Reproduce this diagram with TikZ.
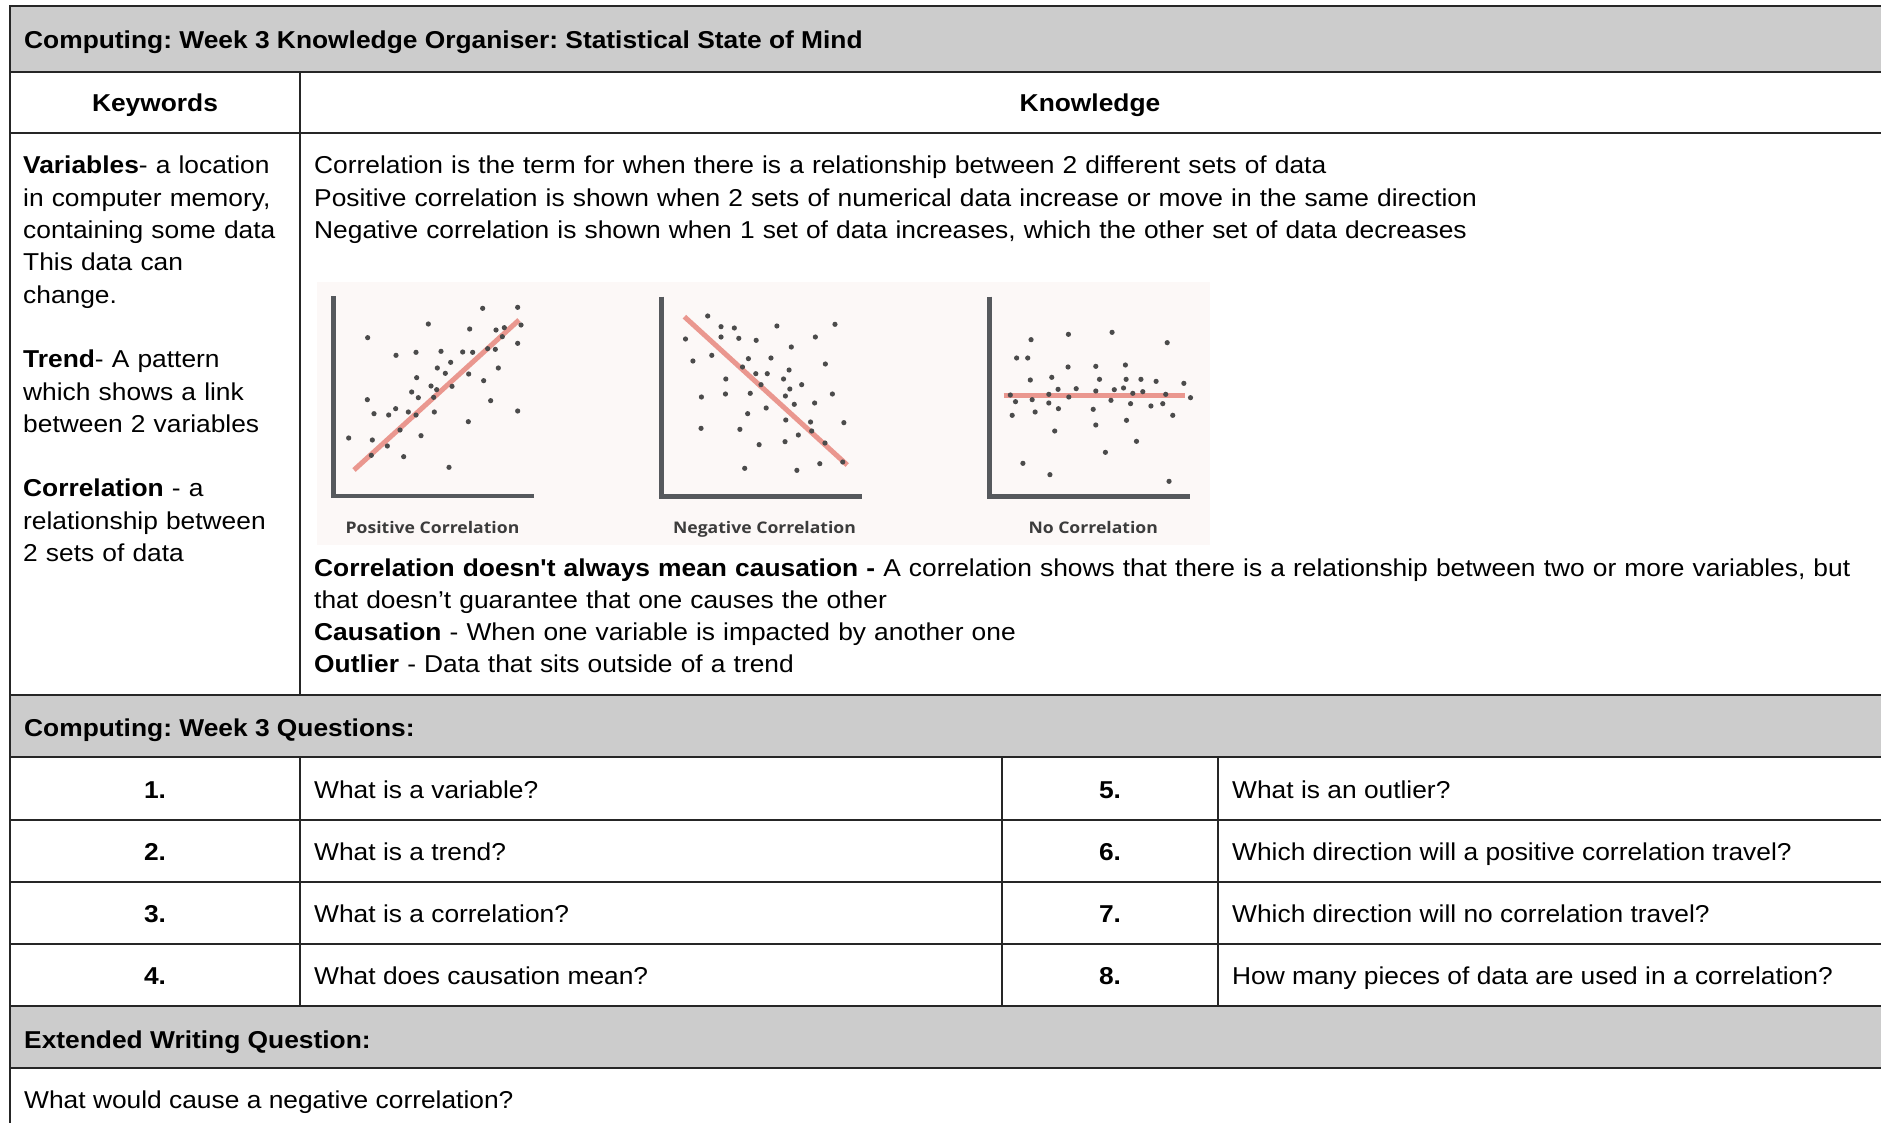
\documentclass[tikz,border=0pt]{standalone}
\usepackage{fontspec}
\setmainfont[FakeStretch=1.08,Ligatures=TeXOff]{Liberation Sans}
\newfontfamily\plotfont[FakeStretch=1.1]{Open Sans}
\usetikzlibrary{positioning}
\frenchspacing

\definecolor{hdrgray}{HTML}{CCCCCC}
\definecolor{plotbg}{HTML}{FCF8F7}
\definecolor{axisgray}{HTML}{56595D}
\definecolor{dotgray}{HTML}{4B4B4B}
\definecolor{trendred}{HTML}{EA978F}
\definecolor{labelgray}{HTML}{3C3C3C}

\begin{document}
\begin{tikzpicture}[x=1pt, y=-1pt,
  txt/.style={anchor=base west, inner sep=0pt, font=\fontsize{24.4}{32.3}\selectfont},
  block/.style={txt, text width=1700pt, align=left},
  hdr/.style={anchor=base, inner sep=0pt, font=\fontsize{24.4}{32.3}\selectfont\bfseries},
  grid/.style={draw=black!85, line width=2pt},
  axis/.style={draw=axisgray, line width=4.5pt},
  trend/.style={draw=trendred, line width=5pt},
  dot/.style={fill=dotgray},
  plotlabel/.style={anchor=base, inner sep=0pt, text=labelgray, font=\plotfont\bfseries\fontsize{16}{18}\selectfont}
]
\useasboundingbox (0,0) rectangle (1881,1123);
\clip (0,0) rectangle (1881,1123);

\fill[hdrgray] (10,6) rectangle (1890,72);
\fill[hdrgray] (10,695) rectangle (1890,757);
\fill[hdrgray] (10,1006) rectangle (1890,1068);
\fill[plotbg] (317,282) rectangle (1210,545);

\draw[grid] (10,1130) -- (10,6) -- (1890,6);
\foreach \yy in {72,133,695,757,820,882,944,1006,1068}
  \draw[grid] (10,\yy) -- (1890,\yy);
\draw[grid] (300,72) -- (300,695);
\foreach \xx in {300,1002,1218}
  \draw[grid] (\xx,757) -- (\xx,1006);

\node[txt] (title) at (24,48.3) {\bfseries Computing: Week 3 Knowledge Organiser: Statistical State of Mind};
\node[hdr] (kwhead) at (155,111.7) {Keywords};
\node[hdr] (knhead) at (1090,111.7) {Knowledge};

\node[block] (kwvar) at (23,174) {\textbf{Variables}- a location\\in computer memory,\\containing some data\\This data can\\change.};
\node[block] (kwtrend) at (23,367.7) {\textbf{Trend}- A pattern\\which shows a link\\between 2 variables};
\node[block] (kwcorr) at (23,496.7) {\textbf{Correlation} - a\\relationship between\\2 sets of data};

\node[block] (kntext) at (314,174) {Correlation is the term for when there is a relationship between 2 different sets of data\\Positive correlation is shown when 2 sets of numerical data increase or move in the same direction\\Negative correlation is shown when 1 set of data increases, which the other set of data decreases};
\node[block] (knmore) at (314,576) {\textbf{Correlation doesn't always mean causation -} A correlation shows that there is a relationship between two or more variables, but\\that doesn’t guarantee that one causes the other\\\textbf{Causation} - When one variable is impacted by another one\\\textbf{Outlier} - Data that sits outside of a trend};

% scatter plots
\draw[axis] (333.3,296) |- (534,496);
\draw[axis] (661.5,296.7) |- (862,496.7);
\draw[axis] (989.6,296.7) |- (1190,496.7);
\draw[trend] (354,470) -- (519,320);
\draw[trend] (684.4,316.7) -- (847.2,465);
\draw[trend] (1003.7,395.7) -- (1185,395.7);

\foreach \px/\py in {548/115,653/112,663/165,385/162,509/177,588/180,613/173,607/200,203/203,288/256,348/247,423/244,488/246,518/247,563/236,586/238,653/220,452/277,412/294,436/310,506/312,595/294,350/323,551/332,393/348,410/359,456/349,335/366,355/383,401/382,202/389,572/392,222/431,266/435,287/416,325/426,348/435,403/426,653/423,505/455,300/480,363/497,146/504,217/510,262/528,214/556,311/560,447/592}
  \fill[dot] ({300+\px/3},{270+\py/3}) circle[radius=2.6pt];
\foreach \px/\py in {183/138,123/207,219/170,255/174,219/201,267/205,314/211,370/168,527/163,474/201,409/231,143/273,194/256,293/266,354/264,277/291,313/311,344/311,403/300,501/282,232/327,388/327,327/344,405/357,437/344,166/381,231/372,298/370,393/378,520/372,417/403,472/399,341/414,291/431,394/450,461/456,551/458,165/475,270/478,464/483,428/495,322/524,392/515,500/519,283/595,424/601,486/581,548/576}
  \fill[dot] ({640+\px/2.703},{270+\py/3}) circle[radius=2.6pt];
\foreach \px/\py in {1057/209,1158/193,1276/187,1425/218,1018/264,1048/264,1157/291,1232/289,1312/285,1055/330,1113/322,1242/328,1314/328,1354/328,1395/334,1470/340,1130/358,1179/356,1232/363,1282/359,1307/354,1332/370,1359/365,1001/375,1105/373,1159/381,1421/373,1488/383,1015/395,1060/389,1273/391,1105/399,1326/401,1381/408,1413/401,1131/416,1225/418,1068/426,1006/436,1440/436,1315/451,1232/465,1121/483,1342/514,1258/547,1035/580,1108/614,1430/634}
  \fill[dot] ({640+\px/2.703},{270+\py/3}) circle[radius=2.6pt];

\node[plotlabel] (poslabel) at (432.5,533.3) {Positive Correlation};
\node[plotlabel] (neglabel) at (764.5,533.3) {Negative Correlation};
\node[plotlabel] (nolabel) at (1093.2,533.3) {No Correlation};

\node[txt] (qhead) at (24,736.7) {\bfseries Computing: Week 3 Questions:};
\foreach \n/\q/\m/\r/\yy in {1/What is a variable?/5/What is an outlier?/798,
    2/What is a trend?/6/Which direction will a positive correlation travel?/860,
    3/What is a correlation?/7/Which direction will no correlation travel?/922,
    4/What does causation mean?/8/How many pieces of data are used in a correlation?/984} {
  \node[hdr] (num\n) at (155,\yy) {\n.};
  \node[txt] (q\n) at (314,\yy) {\q};
  \node[hdr] (num\m) at (1110,\yy) {\m.};
  \node[txt] (q\m) at (1232,\yy) {\r};
}
\node[txt] (exthead) at (24,1048.3) {\bfseries Extended Writing Question:};
\node[txt] (extq) at (24,1108.3) {What would cause a negative correlation?};
\end{tikzpicture}
\end{document}
